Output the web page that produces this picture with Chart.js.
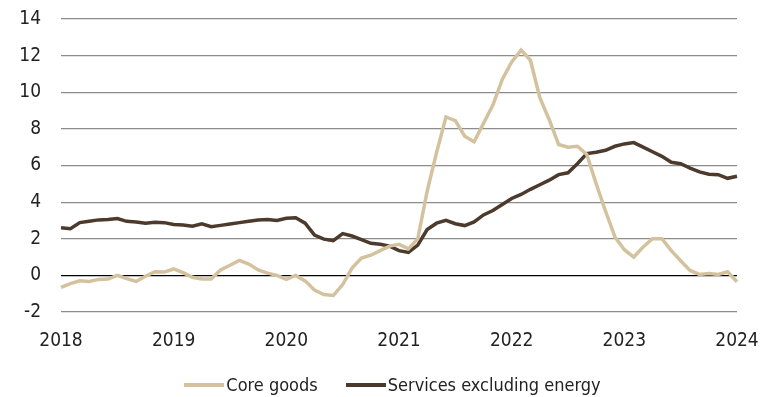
<!DOCTYPE html>
<html>
<head>
<meta charset="utf-8">
<script src="https://cdn.jsdelivr.net/npm/chart.js@4.4.1/dist/chart.umd.min.js"></script>
<style>
  html, body { margin: 0; padding: 0; background: #fff; }
  #wrap { width: 761px; height: 397px; position: relative; }
  #legend {
    position: absolute; left: 24px; right: 0; top: 373px;
    display: flex; justify-content: center; gap: 28px;
    font: 18px 'DejaVu Sans Condensed', 'Liberation Sans Narrow', sans-serif;
    color: #222; line-height: 24px;
  }
  #legend span.item { display: flex; align-items: center; }
  #legend i { display: inline-block; width: 40px; height: 4px; margin-right: 2px; }
</style>
</head>
<body>
<div id="wrap">
  <canvas id="chart"></canvas>
  <div id="legend"></div>
</div>
<script>
// monthly readings, Jan 2018 .. Jan 2024, % y/y
const years = ['2018', '2019', '2020', '2021', '2022', '2023', '2024'];

const coreGoods = [
  -0.65, -0.45, -0.3, -0.33, -0.22, -0.2, 0.0, -0.18, -0.33, -0.05, 0.2, 0.18,
  0.35, 0.15, -0.1, -0.2, -0.2, 0.3, 0.55, 0.82, 0.62, 0.3, 0.12, 0.0,
  -0.22, 0.0, -0.3, -0.8, -1.05, -1.1, -0.5, 0.4, 0.95, 1.1, 1.35, 1.6,
  1.7, 1.45, 2.0, 4.6, 6.7, 8.65, 8.45, 7.6, 7.3, 8.3, 9.3, 10.7,
  11.65, 12.3, 11.75, 9.7, 8.5, 7.15, 7.0, 7.05, 6.6, 5.0, 3.5, 2.1,
  1.4, 1.0, 1.55, 2.0, 2.0, 1.35, 0.8, 0.27, 0.05, 0.1, 0.05, 0.2,
  -0.35
];

const servicesExEnergy = [
  2.6, 2.55, 2.88, 2.95, 3.03, 3.05, 3.1, 2.95, 2.92, 2.85, 2.9, 2.88,
  2.78, 2.75, 2.68, 2.82, 2.66, 2.73, 2.8, 2.88, 2.95, 3.02, 3.05, 3.0,
  3.12, 3.15, 2.85, 2.2, 1.98, 1.9, 2.28, 2.15, 1.95, 1.75, 1.7, 1.6,
  1.35, 1.25, 1.65, 2.5, 2.85, 3.0, 2.82, 2.72, 2.92, 3.3, 3.54, 3.87,
  4.2, 4.42, 4.7, 4.95, 5.2, 5.5, 5.6, 6.1, 6.65, 6.72, 6.83, 7.05,
  7.18, 7.25, 7.0, 6.75, 6.5, 6.18, 6.1, 5.86, 5.65, 5.52, 5.5, 5.3,
  5.41
];

// one label per month, only Januaries get printed
const months = [];
years.forEach((y, i) => {
  const n = i === years.length - 1 ? 1 : 12;
  for (let m = 1; m <= n; m++) months.push(y + '-' + String(m).padStart(2, '0'));
});

const TAN = '#d4c29e';
const BROWN = '#4c3a2c';
const FONT = "'DejaVu Sans Condensed', 'Liberation Sans Narrow', sans-serif";

Chart.defaults.font.family = FONT;
Chart.defaults.color = '#222';

const chart = new Chart(document.getElementById('chart'), {
  type: 'line',
  data: {
    labels: months,
    datasets: [
      {
        label: 'Core goods',
        data: coreGoods,
        borderColor: TAN,
        backgroundColor: TAN,
        borderWidth: 3.5,
        pointRadius: 0,
        tension: 0
      },
      {
        label: 'Services excluding energy',
        data: servicesExEnergy,
        borderColor: BROWN,
        backgroundColor: BROWN,
        borderWidth: 3.5,
        pointRadius: 0,
        tension: 0
      }
    ]
  },
  options: {
    responsive: true,
    maintainAspectRatio: false,
    animation: false,
    layout: { padding: { top: 19, right: 24, left: 0, bottom: 0 } },
    plugins: {
      tooltip: { enabled: false },
      legend: { display: false }
    },
    scales: {
      x: {
        afterFit: s => {
          s.height = 85;
          s.paddingLeft = 0;
          s.paddingRight = 0;
        },
        grid: { display: false },
        border: { display: false },
        ticks: {
          autoSkip: false,
          maxRotation: 0,
          padding: 10,
          font: { size: 19 },
          callback: function (v) {
            const lbl = this.getLabelForValue(v);
            return lbl.endsWith('-01') ? lbl.slice(0, 4) : '';
          }
        }
      },
      y: {
        min: -2,
        max: 14,
        afterFit: s => {
          s.width = 61;
          s.paddingTop = 0;
          s.paddingBottom = 0;
        },
        border: { display: false },
        grid: {
          drawTicks: false,
          lineWidth: 1.2,
          color: ctx => ctx.tick.value === 0 ? '#000' : '#8c8c8c'
        },
        ticks: {
          stepSize: 2,
          padding: 20,
          font: { size: 19 }
        }
      }
    }
  }
});

// legend: short line sample + name, centred under the axis
const legend = document.getElementById('legend');
chart.data.datasets.forEach(ds => {
  const item = document.createElement('span');
  item.className = 'item';
  const swatch = document.createElement('i');
  swatch.style.background = ds.borderColor;
  item.appendChild(swatch);
  item.appendChild(document.createTextNode(ds.label));
  legend.appendChild(item);
});
</script>
</body>
</html>
